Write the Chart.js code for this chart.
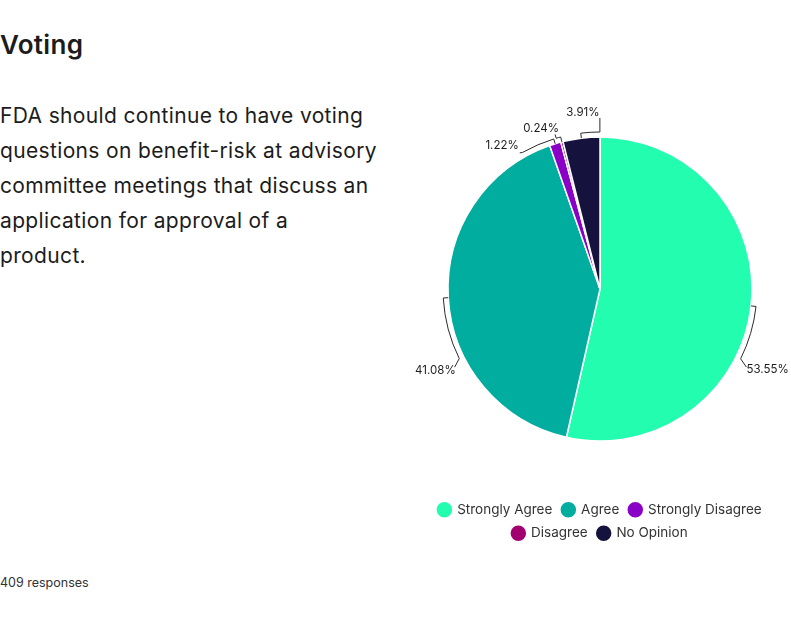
<!DOCTYPE html>
<html>
<head>
<meta charset="utf-8">
<script src="https://cdn.jsdelivr.net/npm/chart.js@4.4.0/dist/chart.umd.min.js"></script>
<style>
    body { margin: 0; background: #fff; font-family: Inter, sans-serif; color: #1c1c1c; }
    #title { position: absolute; left: 0; top: 29px; font-size: 26px; font-weight: 600; letter-spacing: 0.3px; }
    #question { position: absolute; left: 0; top: 98px; font-size: 21px; line-height: 35px; letter-spacing: 0.35px; white-space: nowrap; }
    #responses { position: absolute; left: 0; top: 575px; font-size: 12.5px; color: #333; }
    #chartBox { position: absolute; left: 410px; top: 0; width: 380px; height: 624px; }
</style>
</head>
<body>
<div id="title">Voting</div>
<div id="question">FDA should continue to have voting<br>questions on benefit-risk at advisory<br>committee meetings that discuss an<br>application for approval of a<br>product.</div>
<div id="responses">409 responses</div>
<div id="chartBox"><canvas id="votingChart"></canvas></div>

<script>
const answers = ['Strongly Agree', 'Agree', 'Strongly Disagree', 'Disagree', 'No Opinion'];
const shares = [53.55, 41.08, 1.22, 0.24, 3.91];
const colors = ['#23fdb0', '#00ad9f', '#8b00c6', '#a1006e', '#15133d'];

// leader line layout for each slice (degrees / pixels)
const callouts = [
    { turn: 20, endTurn: 1.7, out: 14, align: 'left', dx: 0, dy: 2 },
    { turn: -23, endTurn: -2, out: 13, align: 'right', dx: 1, dy: 3 },
    { turn: -12.4, endTurn: -1, out: 6, align: 'right', dx: -1, dy: -7 },
    { turn: -1.7, endTurn: 0, out: 9, align: 'center', dx: -14, dy: -6 },
    { turn: 7, endTurn: 0, out: 19, align: 'center', dx: -17, dy: -5 }
];

const calloutPlugin = {
    id: 'callouts',
    afterDatasetsDraw(chart) {
        const ctx = chart.ctx;
        const meta = chart.getDatasetMeta(0);
        const values = chart.data.datasets[0].data;
        const deg = Math.PI / 180;
        meta.data.forEach((arc, i) => {
            const c = callouts[i];
            const p = arc.getProps(['x', 'y', 'outerRadius', 'startAngle', 'endAngle'], true);
            const mid = (p.startAngle + p.endAngle) / 2;
            const turn = mid + c.turn * deg;
            const endA = turn + c.endTurn * deg;
            const rEnd = p.outerRadius + c.out;
            const ex = p.x + rEnd * Math.cos(endA);
            const ey = p.y + rEnd * Math.sin(endA);

            ctx.save();
            ctx.strokeStyle = '#2b2b2b';
            ctx.lineWidth = 1;
            ctx.beginPath();
            ctx.moveTo(p.x + p.outerRadius * Math.cos(mid), p.y + p.outerRadius * Math.sin(mid));
            ctx.arc(p.x, p.y, p.outerRadius + 5, mid, turn, c.turn < 0);
            ctx.lineTo(ex, ey);
            ctx.stroke();

            ctx.fillStyle = '#1c1c1c';
            ctx.font = '11.5px Inter, sans-serif';
            ctx.textAlign = c.align;
            ctx.textBaseline = 'middle';
            ctx.fillText(values[i].toFixed(2) + '%', ex + c.dx, ey + c.dy);
            ctx.restore();
        });
    }
};

const ctx = document.getElementById('votingChart').getContext('2d');
new Chart(ctx, {
    type: 'pie',
    data: {
        labels: answers,
        datasets: [{
            data: shares,
            backgroundColor: colors,
            borderColor: '#ffffff',
            borderWidth: 1.5,
            radius: 152
        }]
    },
    options: {
        responsive: true,
        maintainAspectRatio: false,
        animation: false,
        layout: { padding: { top: 85, bottom: 74 } },
        plugins: {
            tooltip: { enabled: false },
            legend: {
                display: true,
                position: 'bottom',
                labels: {
                    usePointStyle: true,
                    pointStyle: 'circle',
                    boxWidth: 12,
                    boxHeight: 12,
                    padding: 10,
                    color: '#333',
                    font: { family: 'Inter, sans-serif', size: 13.5 }
                }
            }
        }
    },
    plugins: [calloutPlugin]
});
</script>
</body>
</html>
